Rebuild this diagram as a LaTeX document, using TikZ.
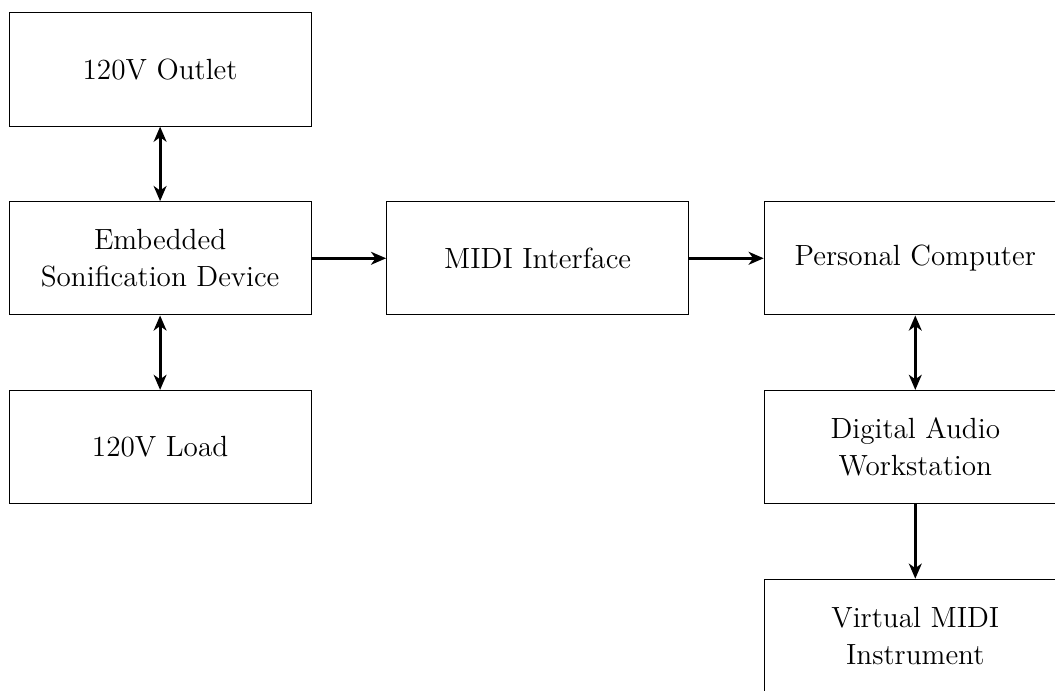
\documentclass[tikz,border=0pt]{standalone}
\usetikzlibrary{arrows.meta}
\begin{document}
\begin{tikzpicture}[
  blk/.style={draw, minimum width=4cm, minimum height=1.5cm, align=center, font=\fontsize{11}{14}\selectfont, inner sep=0pt},
  tip/.tip={Stealth[length=2mm,width=1.7mm,inset=0.6mm]},
  conn/.style={line width=1.1pt, -tip},
  bconn/.style={line width=1.1pt, tip-tip}
]
\useasboundingbox (-0.12,0.17) rectangle (13.85,-8.97);
\node[blk] (outlet) at (2,-0.75) {120V Outlet};
\node[blk] (esd) at (2,-3.25) {Embedded\\Sonification Device};
\node[blk] (load) at (2,-5.75) {120V Load};
\node[blk] (midi) at (7,-3.25) {MIDI Interface};
\node[blk] (pc) at (12,-3.25) {Personal Computer};
\node[blk] (daw) at (12,-5.75) {Digital Audio\\Workstation};
\node[blk] (vmi) at (12,-8.25) {Virtual MIDI\\Instrument};
\draw[bconn] (outlet) -- (esd);
\draw[bconn] (esd) -- (load);
\draw[conn] (esd) -- (midi);
\draw[conn] (midi) -- (pc);
\draw[bconn] (pc) -- (daw);
\draw[conn] (daw) -- (vmi);
\end{tikzpicture}
\end{document}
